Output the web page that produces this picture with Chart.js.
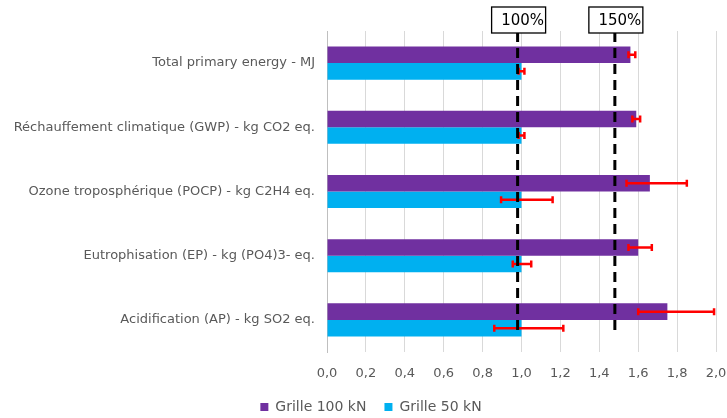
<!DOCTYPE html>
<html lang="fr">
<head>
  <meta charset="UTF-8">
  <title>Grille 100 kN vs Grille 50 kN</title>
  <style>
    html, body { margin: 0; padding: 0; background: #fff; }
    #wrap { width: 727px; height: 418px; }
  </style>
</head>
<body>
  <div id="wrap"><canvas id="chart" width="727" height="418"></canvas></div>

  <script src="https://cdn.jsdelivr.net/npm/chart.js"></script>
  <script>
    // données
    const categories = [
      'Total primary energy - MJ',
      'Réchauffement climatique (GWP) - kg CO2 eq.',
      'Ozone troposphérique (POCP) - kg C2H4 eq.',
      'Eutrophisation (EP) - kg (PO4)3- eq.',
      'Acidification (AP) - kg SO2 eq.'
    ];
    const grille100 = [1.56, 1.59, 1.66, 1.60, 1.75];
    const grille50 = [1.0, 1.0, 1.0, 1.0, 1.0];
    const err100Low = [1.55, 1.57, 1.54, 1.55, 1.60];
    const err100High = [1.585, 1.61, 1.85, 1.67, 1.99];
    const err50Low = [0.985, 0.985, 0.895, 0.955, 0.86];
    const err50High = [1.015, 1.015, 1.16, 1.05, 1.215];
    const xTickLabels = ['0,0', '0,2', '0,4', '0,6', '0,8', '1,0', '1,2', '1,4', '1,6', '1,8', '2,0'];
    const refLines = [0.98, 1.48];
    const refLabels = ['100%', '150%'];

    const FONT = "'DejaVu Sans', sans-serif";
    const GREY = '#595959';

    // barres d'erreur (rouge)
    const errorBars = {
      id: 'errorBars',
      afterDatasetsDraw(chart) {
        const ctx = chart.ctx;
        const x = chart.scales.x;
        const bounds = [[err100Low, err100High], [err50Low, err50High]];
        ctx.save();
        ctx.strokeStyle = '#FF0000';
        ctx.lineWidth = 2.5;
        bounds.forEach(([lo, hi], i) => {
          chart.getDatasetMeta(i).data.forEach((bar, j) => {
            const x1 = x.getPixelForValue(lo[j]);
            const x2 = x.getPixelForValue(hi[j]);
            const y = bar.y;
            ctx.beginPath();
            ctx.moveTo(x1, y); ctx.lineTo(x2, y);
            ctx.moveTo(x1, y - 3.5); ctx.lineTo(x1, y + 3.5);
            ctx.moveTo(x2, y - 3.5); ctx.lineTo(x2, y + 3.5);
            ctx.stroke();
          });
        });
        ctx.restore();
      }
    };

    // lignes 100% / 150% en pointillé avec étiquette encadrée
    const refLinePlugin = {
      id: 'refLines',
      afterDraw(chart) {
        const ctx = chart.ctx;
        const x = chart.scales.x;
        const area = chart.chartArea;
        ctx.save();
        refLines.forEach((v, i) => {
          const px = x.getPixelForValue(v);
          ctx.strokeStyle = '#000';
          ctx.lineWidth = 3;
          ctx.setLineDash([10, 6]);
          ctx.beginPath();
          ctx.moveTo(px, area.top + 1);
          ctx.lineTo(px, area.bottom - 16);
          ctx.stroke();

          ctx.setLineDash([]);
          const w = 54, h = 26;
          const left = px - w / 2 + 1, top = 7;
          ctx.fillStyle = '#fff';
          ctx.fillRect(left, top, w, h);
          ctx.lineWidth = 1.3;
          ctx.strokeRect(left, top, w, h);
          ctx.fillStyle = '#000';
          ctx.font = '15px ' + FONT;
          ctx.textAlign = 'right';
          ctx.textBaseline = 'middle';
          ctx.fillText(refLabels[i], left + w - 1.5, top + h / 2 + 1);
        });
        ctx.restore();
      }
    };

    // légende un peu plus basse et décalée à droite comme dans Excel
    const legendTweak = {
      id: 'legendTweak',
      beforeInit(chart) {
        const lg = chart.legend;
        if (!lg) return;
        const fit = lg.fit;
        lg.fit = function () {
          fit.call(this);
          this.height = 36;
        };
      },
      afterLayout(chart) {
        const lg = chart.legend;
        if (!lg) return;
        lg.left += 13;
        lg.right += 13;
      }
    };

    new Chart(document.getElementById('chart'), {
      type: 'bar',
      data: {
        labels: categories,
        datasets: [
          {
            label: 'Grille 100 kN',
            data: grille100,
            backgroundColor: '#7030A0',
            barPercentage: 1,
            categoryPercentage: 0.515
          },
          {
            label: 'Grille 50 kN',
            data: grille50,
            backgroundColor: '#00B0F0',
            barPercentage: 1,
            categoryPercentage: 0.515
          }
        ]
      },
      options: {
        indexAxis: 'y',
        responsive: false,
        animation: false,
        layout: { padding: { top: 31, right: 11, left: 0, bottom: 0 } },
        scales: {
          x: {
            min: 0,
            max: 2,
            ticks: {
              stepSize: 0.2,
              padding: 14,
              color: GREY,
              font: { family: FONT, size: 13 },
              callback: (val, i) => xTickLabels[i]
            },
            grid: { color: '#D9D9D9', lineWidth: 1, drawTicks: false },
            border: { display: false },
            afterFit(scale) {
              scale.height = 30;
              scale.paddingLeft = 0;
              scale.paddingRight = 0;
            }
          },
          y: {
            ticks: {
              padding: 12,
              color: GREY,
              font: { family: FONT, size: 13 }
            },
            grid: { display: false, drawTicks: false },
            border: { display: true, color: '#BFBFBF', width: 1 },
            afterFit(scale) { scale.width = 327; }
          }
        },
        plugins: {
          legend: {
            position: 'bottom',
            labels: {
              boxWidth: 8,
              boxHeight: 8,
              padding: 18,
              color: GREY,
              font: { family: FONT, size: 14 }
            }
          },
          tooltip: { enabled: false }
        }
      },
      plugins: [legendTweak, errorBars, refLinePlugin]
    });
  </script>
</body>
</html>
